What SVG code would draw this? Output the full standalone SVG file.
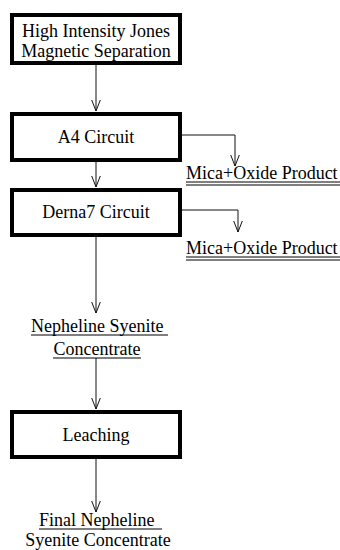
<svg xmlns="http://www.w3.org/2000/svg" width="340" height="550" viewBox="0 0 340 550">
<style>
.box{fill:#fff;stroke:#000;stroke-width:4}
.t{font-family:"Liberation Serif","Times New Roman",serif;font-size:18px;fill:#000}
.c{text-anchor:middle}
.con{fill:none;stroke:#111;stroke-width:1}
.ul{stroke:#000;stroke-width:1}
</style>
<defs>
<marker id="ah" viewBox="0 0 12 10" refX="11.5" refY="5" markerWidth="12" markerHeight="10" markerUnits="userSpaceOnUse" orient="auto">
<path d="M0,0.5 L11.5,5 L0,9.5" fill="none" stroke="#111" stroke-width="1"/>
</marker>
</defs>
<rect width="340" height="550" fill="#fff"/>
<g id="connectors">
<line class="con" x1="96" y1="65" x2="96" y2="111" marker-end="url(#ah)"/>
<line class="con" x1="96" y1="162" x2="96" y2="187" marker-end="url(#ah)"/>
<polyline class="con" points="182,135 235,135 235,166" marker-end="url(#ah)"/>
<polyline class="con" points="182,210 238,210 238,232" marker-end="url(#ah)"/>
<line class="con" x1="96" y1="237" x2="96" y2="313" marker-end="url(#ah)"/>
<line class="con" x1="96" y1="358" x2="96" y2="409" marker-end="url(#ah)"/>
<line class="con" x1="96" y1="459" x2="96" y2="512" marker-end="url(#ah)"/>
</g>
<g id="n_jones">
<rect class="box" x="12" y="15" width="168" height="48"/>
<text class="t c" x="96" y="37">High Intensity Jones</text>
<text class="t c" x="96" y="57">Magnetic Separation</text>
</g>
<g id="n_a4">
<rect class="box" x="12" y="114" width="168" height="46"/>
<text class="t c" x="96" y="143">A4 Circuit</text>
</g>
<g id="n_mica1">
<text class="t" x="186" y="179">Mica+Oxide Product</text>
<line class="ul" x1="186" y1="182" x2="340" y2="182"/>
<line class="ul" x1="186" y1="185" x2="340" y2="185"/>
</g>
<g id="n_derna">
<rect class="box" x="12" y="190" width="168" height="45"/>
<text class="t c" x="96" y="218">Derna7 Circuit</text>
</g>
<g id="n_mica2">
<text class="t" x="186" y="254">Mica+Oxide Product</text>
<line class="ul" x1="186" y1="257" x2="340" y2="257"/>
<line class="ul" x1="186" y1="260" x2="340" y2="260"/>
</g>
<g id="n_neph">
<text class="t" x="31" y="332">Nepheline Syenite</text>
<line class="ul" x1="31" y1="335" x2="168" y2="335"/>
<text class="t c" x="97" y="355">Concentrate</text>
<line class="ul" x1="53" y1="358" x2="141" y2="358"/>
</g>
<g id="n_leach">
<rect class="box" x="12" y="412" width="168" height="45"/>
<text class="t c" x="96" y="441">Leaching</text>
</g>
<g id="n_final">
<text class="t" x="39" y="526">Final Nepheline</text>
<line class="ul" x1="39" y1="529" x2="162" y2="529"/>
<text class="t c" x="98" y="546">Syenite Concentrate</text>
</g>
</svg>
